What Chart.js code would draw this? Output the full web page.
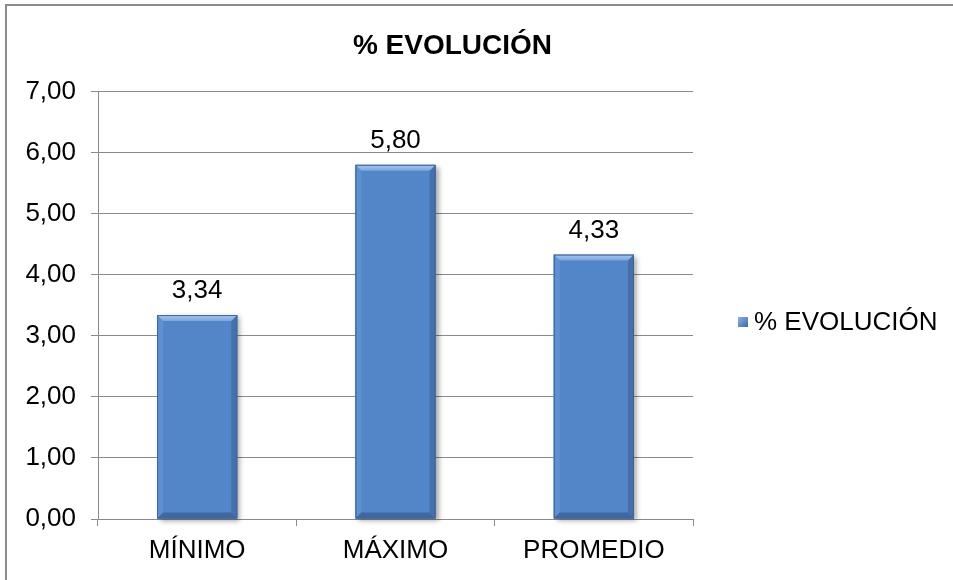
<!DOCTYPE html>
<html>
<head>
<meta charset="utf-8">
<script src="https://cdn.jsdelivr.net/npm/chart.js@4/dist/chart.umd.min.js"></script>
<style>
    html, body { margin: 0; padding: 0; background: #fff; }
    #wrap { position: relative; width: 953px; height: 580px; overflow: hidden; }
    #frame { position: absolute; left: 5px; top: 4px; width: 960px; height: 600px;
             border-left: 2px solid #8c8c8c; border-top: 2px solid #8c8c8c; }
    #chart { position: absolute; left: 0; top: 0; }
</style>
</head>
<body>
<div id="wrap">
    <div id="frame"></div>
    <canvas id="chart" width="953" height="580"></canvas>
</div>
<script>
// Chart data
const categories = ['MÍNIMO', 'MÁXIMO', 'PROMEDIO'];
const evolucion = [3.34, 5.80, 4.33];
const yTicks = [0, 1, 2, 3, 4, 5, 6, 7];
const seriesName = '% EVOLUCIÓN';

const FONT = '"Liberation Sans", Arial, sans-serif';
const GRID = '#8a8a8a';

function fmt(v) {
    return Number(v).toFixed(2).replace('.', ',');
}

// Excel-like bevel drawn over each bar
function bevelRect(ctx, l, t, r, b, bev) {
    const poly = (pts, color) => {
        ctx.beginPath();
        ctx.moveTo(pts[0][0], pts[0][1]);
        for (let i = 1; i < pts.length; i++) ctx.lineTo(pts[i][0], pts[i][1]);
        ctx.closePath();
        ctx.fillStyle = color;
        ctx.fill();
    };
    poly([[l, t], [l, b], [l + bev, b - bev], [l + bev, t + bev]], '#5f90cf');
    poly([[r, t], [r, b], [r - bev, b - bev], [r - bev, t + bev]], '#4670ab');
    poly([[l, b], [r, b], [r - bev, b - bev], [l + bev, b - bev]], '#3f68a3');
    const g = ctx.createLinearGradient(0, t, 0, t + bev);
    g.addColorStop(0, '#a9c8ef');
    g.addColorStop(1, '#7aa5dc');
    poly([[l, t], [r, t], [r - bev, t + bev], [l + bev, t + bev]], g);
    ctx.strokeStyle = '#3d6496';
    ctx.lineWidth = 1;
    ctx.strokeRect(l + 0.5, t + 0.5, r - l - 1, b - t - 1);
}

const barEffects = {
    id: 'barEffects',
    beforeDatasetsDraw(chart) {
        const ctx = chart.ctx;
        chart.getDatasetMeta(0).data.forEach(bar => {
            const l = bar.x - bar.width / 2;
            ctx.save();
            ctx.shadowColor = 'rgba(0,0,0,0.35)';
            ctx.shadowBlur = 5;
            ctx.shadowOffsetX = 3;
            ctx.shadowOffsetY = 2;
            ctx.fillStyle = '#5386c8';
            ctx.fillRect(l, bar.y, bar.width, bar.base - bar.y);
            ctx.restore();
        });
    },
    afterDatasetsDraw(chart) {
        const ctx = chart.ctx;
        const meta = chart.getDatasetMeta(0);
        ctx.save();
        meta.data.forEach((bar, i) => {
            const l = bar.x - bar.width / 2;
            const r = bar.x + bar.width / 2;
            bevelRect(ctx, l, bar.y, r, bar.base, 6);
            ctx.fillStyle = '#000';
            ctx.font = '26px ' + FONT;
            ctx.textAlign = 'center';
            ctx.textBaseline = 'alphabetic';
            ctx.fillText(fmt(evolucion[i]), bar.x, bar.y - 17);
        });
        ctx.restore();
    },
    afterDraw(chart) {
        // legend on the right
        const ctx = chart.ctx;
        const x = chart.chartArea.right + 45;
        const y = 322;
        ctx.save();
        const g = ctx.createLinearGradient(x, y - 5, x + 10, y + 5);
        g.addColorStop(0, '#8db3e6');
        g.addColorStop(1, '#3f68a3');
        ctx.fillStyle = g;
        ctx.fillRect(x, y - 5, 10, 10);
        ctx.fillStyle = '#000';
        ctx.font = '26px ' + FONT;
        ctx.textAlign = 'left';
        ctx.textBaseline = 'middle';
        ctx.fillText(seriesName, x + 16, y + 1);
        ctx.restore();
    }
};

const ctx = document.getElementById('chart').getContext('2d');
new Chart(ctx, {
    type: 'bar',
    data: {
        labels: categories,
        datasets: [{
            label: seriesName,
            data: evolucion,
            backgroundColor: '#5386c8',
            borderWidth: 0,
            categoryPercentage: 1,
            barPercentage: 0.404
        }]
    },
    options: {
        responsive: false,
        animation: false,
        devicePixelRatio: 1,
        layout: { padding: { left: 0, right: 48, top: 0, bottom: 0 } },
        plugins: {
            legend: { display: false },
            tooltip: { enabled: false },
            title: {
                display: true,
                text: seriesName,
                color: '#000',
                font: { family: FONT, size: 28, weight: 'bold' },
                padding: { top: 29, bottom: 29 }
            }
        },
        scales: {
            x: {
                afterFit: scale => { scale.height = 61; },
                border: { color: GRID, width: 1 },
                grid: { drawOnChartArea: false, drawTicks: true, tickLength: 7, color: GRID },
                ticks: { color: '#000', padding: 9, font: { family: FONT, size: 26 } }
            },
            y: {
                min: 0,
                max: yTicks[yTicks.length - 1],
                afterFit: scale => { scale.width = 98; },
                afterBuildTicks: scale => { scale.ticks = yTicks.map(v => ({ value: v })); },
                border: { color: GRID, width: 1 },
                grid: { color: GRID, lineWidth: 1, tickLength: 7 },
                ticks: {
                    color: '#000',
                    padding: 15,
                    font: { family: FONT, size: 26 },
                    callback: v => fmt(v)
                }
            },
            // empty right-hand strip that leaves room for the legend
            side: {
                type: 'linear',
                position: 'right',
                afterFit: scale => { scale.width = 212; },
                grid: { display: false },
                border: { display: false },
                ticks: { display: false }
            }
        }
    },
    plugins: [barEffects]
});
</script>
</body>
</html>
